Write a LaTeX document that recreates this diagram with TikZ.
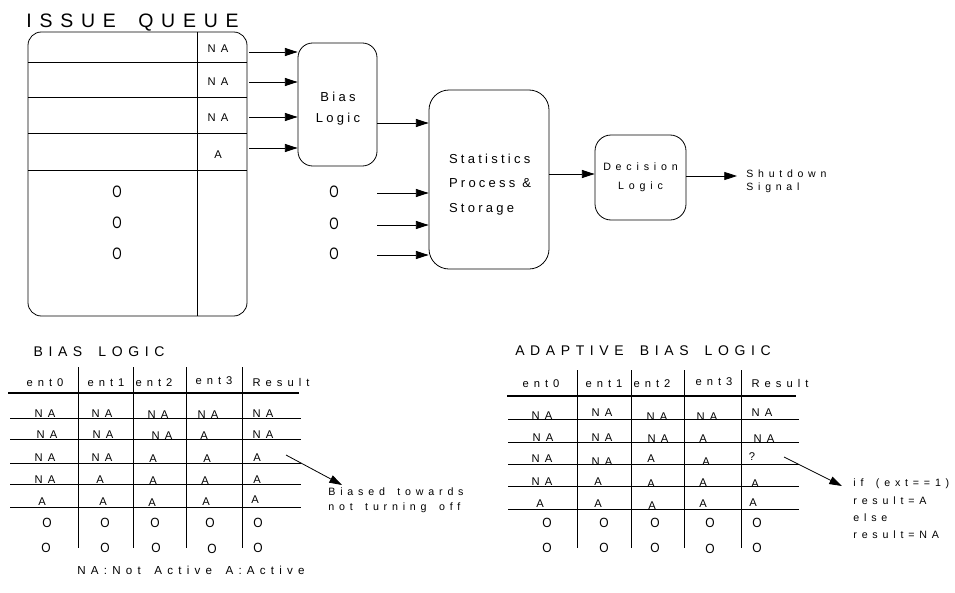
\documentclass[tikz,border=0pt]{standalone}
\usepackage{fontspec}
\setmainfont{Liberation Sans}
\newfontfamily\lsA[LetterSpace=45,WordSpace=1.6]{Liberation Sans}
\newfontfamily\lsB[LetterSpace=40,WordSpace=1.7]{Liberation Sans}
\newfontfamily\lsC[LetterSpace=25]{Liberation Sans}
\newfontfamily\dotA[FakeStretch=0.73]{Liberation Sans}
\newfontfamily\dotB[FakeStretch=0.9]{Liberation Sans}
\usetikzlibrary{arrows.meta}
\begin{document}
\begin{tikzpicture}[x=0.75pt,y=-0.75pt,line width=0.6pt,
  arr/.style={-{Triangle[length=9.5pt,width=6pt]}},
  box/.style={draw,rounded corners=#1,inner sep=0pt},
  tx/.style={inner sep=0pt,text height=0.72em,text depth=0pt,font=\lsA\fontsize{8.4pt}{10pt}\selectfont},
  ttl/.style={inner sep=0pt,text height=0.72em,text depth=0pt,font=\lsB\fontsize{10.5pt}{12pt}\selectfont},
  bigttl/.style={inner sep=0pt,text height=0.72em,text depth=0pt,font=\lsB\fontsize{14.6pt}{16pt}\selectfont},
  qdot/.style={inner sep=0pt,text height=0.72em,text depth=0pt,font=\dotA\fontsize{12.4pt}{14pt}\selectfont},
  tdot/.style={inner sep=0pt,text height=0.72em,text depth=0pt,font=\dotB\fontsize{10pt}{12pt}\selectfont},
  note/.style={inner sep=0pt,align=left,anchor=west,font=\lsA\fontsize{8pt}{11.25pt}\selectfont},
  lbl/.style={inner sep=0pt,font=\lsC\fontsize{9.75pt}{15.75pt}\selectfont},
  tline/.style={line width=0.6pt},
  hline/.style={line width=0.8pt}]
\useasboundingbox (0,0) rectangle (955,592);

% ---------- Issue queue ----------
\node[bigttl] (qtitle) at (132.5,23) {ISSUE QUEUE};
\node[box=10pt,minimum width=219*0.75pt,minimum height=284*0.75pt] (queue) at (137.5,174) {};
\foreach \yy in {62,97,133,170} \draw (28,\yy) -- (247,\yy);
\draw (197,32) -- (197,316);
\node[tx] (na1) at (218,48) {NA};
\node[tx] (na2) at (218,81) {NA};
\node[tx] (na3) at (218,117) {NA};
\node[tx] (na4) at (218,154) {A};
\node[qdot] (qd1) at (117,193) {O};
\node[qdot] (qd2) at (117,224) {O};
\node[qdot] (qd3) at (117,255) {O};

% ---------- Bias logic ----------
\node[box=11pt,minimum width=79*0.75pt,minimum height=123*0.75pt] (bias) at (337.5,104.5) {};
\node[lbl,align=center] (biastxt) at (338,108.5) {Bias\\Logic};
\coordinate (q1) at (249,52);
\coordinate (q2) at (249,82);
\coordinate (q3) at (249,117);
\coordinate (q4) at (249,148);
\foreach \c in {q1,q2,q3,q4} \draw[arr] (\c) -- (\c -| bias.west);

% ---------- Statistics ----------
\node[box=15pt,minimum width=120*0.75pt,minimum height=179*0.75pt] (stats) at (489,179.5) {};
\node[lbl,align=left,font=\lsC\fontsize{9.75pt}{18.4pt}\selectfont] (statstxt) at (490,184.5) {Statistics\\Process \&\\Storage};
\coordinate (bo) at (377,123);
\draw[arr] (bo) -- (bo -| stats.west);
\node[qdot] (sd1) at (334,193) {O};
\node[qdot] (sd2) at (334,225) {O};
\node[qdot] (sd3) at (334,255) {O};
\coordinate (s1) at (377,193);
\coordinate (s2) at (377,225);
\coordinate (s3) at (377,255);
\foreach \c in {s1,s2,s3} \draw[arr] (\c) -- (\c -| stats.west);

% ---------- Decision ----------
\node[box=12pt,minimum width=91*0.75pt,minimum height=85*0.75pt,align=center,
      font=\lsA\fontsize{8pt}{14.25pt}\selectfont] (dec) at (640.5,177.5) {Decision\\Logic};
\coordinate (so) at (549,174);
\draw[arr] (so) -- (so -| dec.west);
\node[note,font=\lsA\fontsize{7.9pt}{9.75pt}\selectfont] (sig) at (746,181.5) {Shutdown\\Signal};
\coordinate (dout) at (686,176);
\coordinate (sigin) at (737,176);
\draw[arr] (dout) -- (sigin);

% ---------- Left table ----------
\node[ttl] (lt) at (99,352) {BIAS LOGIC};
\foreach \xx in {78,133,186,242} \draw[tline] (\xx,367) -- (\xx,548);
\draw[hline] (8,393) -- (299,393);
\foreach \yy in {418,439,463,484,507} \draw[tline] (10,\yy) -- (301,\yy);
\node[tx] (lh0) at (45,382) {ent0};
\node[tx] (lh1) at (106,382) {ent1};
\node[tx] (lh2) at (154,382) {ent2};
\node[tx] (lh3) at (214,380) {ent3};
\node[tx] (lh4) at (281,382) {Result};
% rows
\node[tx] at (45,413) {NA};  \node[tx] at (102,413) {NA}; \node[tx] at (158,414) {NA}; \node[tx] at (208,414) {NA}; \node[tx] at (263,413) {NA};
\node[tx] at (47,434) {NA};  \node[tx] at (103,434) {NA}; \node[tx] at (162,435) {NA}; \node[tx] at (204,435) {A};  \node[tx] at (263,434) {NA};
\node[tx] at (45,457) {NA};  \node[tx] at (102,457) {NA}; \node[tx] at (153,458) {A};  \node[tx] at (207,458) {A};  \node[tx] at (257,457) {A};
\node[tx] at (45,479) {NA};  \node[tx] at (100,479) {A};  \node[tx] at (153,480) {A};  \node[tx] at (205,480) {A};  \node[tx] at (257,479) {A};
\node[tx] at (42,501) {A};   \node[tx] at (103,501) {A};  \node[tx] at (152,502) {A};  \node[tx] at (206,501) {A};  \node[tx] at (255,499) {A};
\node[tdot] at (47,523) {O}; \node[tdot] at (105,523) {O}; \node[tdot] at (155,523) {O}; \node[tdot] at (210,523) {O}; \node[tdot] at (258,523) {O};
\node[tdot] at (46,548) {O}; \node[tdot] at (105,548) {O}; \node[tdot] at (156,548) {O}; \node[tdot] at (212,549) {O}; \node[tdot] at (258,548) {O};
\coordinate (la) at (286,455);
\node[note] (bnote) at (328,500.5) {Biased towards\\not turning off};
\coordinate (lb) at (342,485);
\draw[arr] (la) -- (lb);
\node[tx,font=\lsA\fontsize{8.7pt}{10pt}\selectfont] (legend) at (191,570) {NA:Not Active A:Active};

% ---------- Right table ----------
\node[ttl] (rt) at (643,351) {ADAPTIVE BIAS LOGIC};
\foreach \xx in {577,631,684,741} \draw[tline] (\xx,370) -- (\xx,548);
\draw[hline] (507,396) -- (796,396);
\foreach \yy in {419,442,464,486,509} \draw[tline] (508,\yy) -- (799,\yy);
\node[tx] (rh0) at (541,383) {ent0};
\node[tx] (rh1) at (604,383) {ent1};
\node[tx] (rh2) at (652,383) {ent2};
\node[tx] (rh3) at (714,381) {ent3};
\node[tx] (rh4) at (780,383) {Result};
\node[tx] at (542,415) {NA}; \node[tx] at (602,412) {NA}; \node[tx] at (657,416) {NA}; \node[tx] at (707,416) {NA}; \node[tx] at (762,412) {NA};
\node[tx] at (543,437) {NA}; \node[tx] at (602,437) {NA}; \node[tx] at (658,438) {NA}; \node[tx] at (703,438) {A};  \node[tx] at (764,438) {NA};
\node[tx] at (542,458) {NA}; \node[tx] at (602,461) {NA}; \node[tx] at (651,458) {A};  \node[tx] at (706,461) {A};  \node[tx] at (752,456) {?};
\node[tx] at (542,481) {NA}; \node[tx] at (598,481) {A};  \node[tx] at (651,483) {A};  \node[tx] at (703,482) {A};  \node[tx] at (755,483) {A};
\node[tx] at (540,503) {A};  \node[tx] at (598,503) {A};  \node[tx] at (652,505) {A};  \node[tx] at (703,503) {A};  \node[tx] at (753,502) {A};
\node[tdot] at (547,523) {O}; \node[tdot] at (604,523) {O}; \node[tdot] at (655,523) {O}; \node[tdot] at (710,523) {O}; \node[tdot] at (757,523) {O};
\node[tdot] at (547,548) {O}; \node[tdot] at (604,548) {O}; \node[tdot] at (655,548) {O}; \node[tdot] at (710,549) {O}; \node[tdot] at (757,548) {O};
\coordinate (ra) at (784,457);
\coordinate (rb) at (842,486);
\draw[arr] (ra) -- (rb);
\node[note,font=\lsA\fontsize{8pt}{13pt}\selectfont] (ifnote) at (853,509) {if (ext==1)\\result=A\\else\\result=NA};
\end{tikzpicture}
\end{document}
